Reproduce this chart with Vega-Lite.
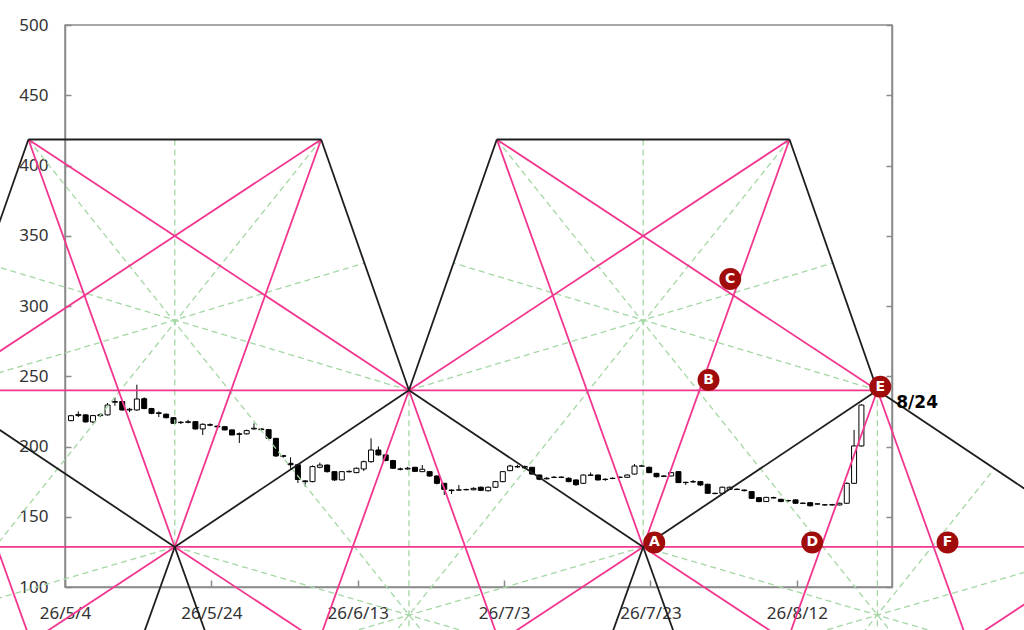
{
  "$schema": "https://vega.github.io/schema/vega-lite/v6.json",
  "width": 827,
  "height": 562,
  "autosize": {"type": "none"},
  "padding": {"left": 65, "top": 25, "right": 132, "bottom": 43},
  "background": "white",
  "config": {
    "view": {"stroke": "#8a8a8a", "strokeWidth": 1.5},
    "axis": {
      "grid": false,
      "domainColor": "#8a8a8a",
      "domainWidth": 1.5,
      "tickColor": "#8a8a8a",
      "tickWidth": 1.5,
      "labelFont": "Noto Sans",
      "labelFontSize": 17,
      "labelColor": "#333333"
    }
  },
  "datasets": {
    "candles": [
      {"date": "2026-05-04", "open": 218.4, "high": 222.5, "low": 218, "close": 221.9},
      {"date": "2026-05-05", "open": 222, "high": 225, "low": 221, "close": 222.8},
      {"date": "2026-05-06", "open": 222.5, "high": 223, "low": 217, "close": 217.5},
      {"date": "2026-05-07", "open": 217.5, "high": 222.5, "low": 216.5, "close": 222},
      {"date": "2026-05-08", "open": 222, "high": 223.5, "low": 221, "close": 222.6},
      {"date": "2026-05-09", "open": 222.5, "high": 231, "low": 222, "close": 229.5},
      {"date": "2026-05-10", "open": 231.5, "high": 235, "low": 229, "close": 232},
      {"date": "2026-05-11", "open": 232, "high": 232.5, "low": 225.5, "close": 226},
      {"date": "2026-05-12", "open": 226, "high": 227.5, "low": 224.5, "close": 226.5},
      {"date": "2026-05-13", "open": 226, "high": 244, "low": 225.5, "close": 233.8},
      {"date": "2026-05-14", "open": 234, "high": 235, "low": 226.5, "close": 227},
      {"date": "2026-05-15", "open": 227, "high": 227.5, "low": 223, "close": 223.6},
      {"date": "2026-05-16", "open": 223.5, "high": 225, "low": 221, "close": 224},
      {"date": "2026-05-17", "open": 223, "high": 223.5, "low": 220, "close": 220.5},
      {"date": "2026-05-18", "open": 220.5, "high": 221, "low": 216, "close": 216.5},
      {"date": "2026-05-19", "open": 217, "high": 218, "low": 216, "close": 217.3},
      {"date": "2026-05-20", "open": 217.2, "high": 219, "low": 216.5, "close": 217.6},
      {"date": "2026-05-21", "open": 217.7, "high": 218, "low": 212, "close": 212.5},
      {"date": "2026-05-22", "open": 212.5, "high": 216.5, "low": 208.2, "close": 215.8},
      {"date": "2026-05-23", "open": 215.5, "high": 216.5, "low": 214.5, "close": 215.2},
      {"date": "2026-05-24", "open": 214.5, "high": 215, "low": 213, "close": 214},
      {"date": "2026-05-25", "open": 214.1, "high": 214.5, "low": 211.5, "close": 211.8},
      {"date": "2026-05-26", "open": 211.8, "high": 212, "low": 208, "close": 208.2},
      {"date": "2026-05-27", "open": 209, "high": 210, "low": 202.5, "close": 208.7},
      {"date": "2026-05-28", "open": 209, "high": 212, "low": 208.5, "close": 211.3},
      {"date": "2026-05-29", "open": 212.5, "high": 216.5, "low": 212, "close": 213},
      {"date": "2026-05-30", "open": 212.5, "high": 213, "low": 211.5, "close": 212},
      {"date": "2026-05-31", "open": 212, "high": 212.5, "low": 205, "close": 205.8},
      {"date": "2026-06-01", "open": 205.8, "high": 206, "low": 192.5, "close": 193.3},
      {"date": "2026-06-02", "open": 193.5, "high": 194, "low": 192, "close": 193},
      {"date": "2026-06-03", "open": 188, "high": 192.3, "low": 183.3, "close": 187},
      {"date": "2026-06-04", "open": 187, "high": 187.5, "low": 174, "close": 176.5},
      {"date": "2026-06-05", "open": 175.5, "high": 176, "low": 171.4, "close": 175},
      {"date": "2026-06-06", "open": 175, "high": 186.5, "low": 174.5, "close": 185.7},
      {"date": "2026-06-07", "open": 185.2, "high": 188.5, "low": 184.5, "close": 186.8},
      {"date": "2026-06-08", "open": 186.8, "high": 187.2, "low": 181.5, "close": 182.1},
      {"date": "2026-06-09", "open": 182.1, "high": 182.5, "low": 175.5, "close": 176.2},
      {"date": "2026-06-10", "open": 176.2, "high": 182.5, "low": 175.8, "close": 182.1},
      {"date": "2026-06-11", "open": 182, "high": 183, "low": 181.5, "close": 182.3},
      {"date": "2026-06-12", "open": 181.4, "high": 185, "low": 181, "close": 184.5},
      {"date": "2026-06-13", "open": 184, "high": 190, "low": 182.5, "close": 189.2},
      {"date": "2026-06-14", "open": 189.2, "high": 205.8, "low": 188.5, "close": 197.5},
      {"date": "2026-06-15", "open": 197.5, "high": 200, "low": 193.5, "close": 194},
      {"date": "2026-06-16", "open": 194, "high": 194.5, "low": 189.5, "close": 190},
      {"date": "2026-06-17", "open": 190, "high": 190.5, "low": 184, "close": 184.5},
      {"date": "2026-06-18", "open": 184, "high": 185, "low": 183, "close": 183.8},
      {"date": "2026-06-19", "open": 184, "high": 185.5, "low": 183.5, "close": 184.5},
      {"date": "2026-06-20", "open": 185.2, "high": 185.5, "low": 182, "close": 182.3},
      {"date": "2026-06-21", "open": 182.1, "high": 186.8, "low": 181.8, "close": 183.8},
      {"date": "2026-06-22", "open": 182.1, "high": 182.5, "low": 178.5, "close": 179},
      {"date": "2026-06-23", "open": 179, "high": 179.5, "low": 173, "close": 173.8},
      {"date": "2026-06-24", "open": 173.8, "high": 174, "low": 165.5, "close": 169.5},
      {"date": "2026-06-25", "open": 169, "high": 169.5, "low": 166.2, "close": 168.6},
      {"date": "2026-06-26", "open": 169, "high": 172.6, "low": 168.5, "close": 169.1},
      {"date": "2026-06-27", "open": 169.2, "high": 170, "low": 168.7, "close": 169.4},
      {"date": "2026-06-28", "open": 169.2, "high": 171, "low": 168.8, "close": 170.2},
      {"date": "2026-06-29", "open": 171, "high": 171.5, "low": 168.3, "close": 168.8},
      {"date": "2026-06-30", "open": 168.5, "high": 171.5, "low": 168, "close": 171},
      {"date": "2026-07-01", "open": 171, "high": 175.5, "low": 170.5, "close": 175},
      {"date": "2026-07-02", "open": 175, "high": 182.5, "low": 174.5, "close": 182.1},
      {"date": "2026-07-03", "open": 182.8, "high": 187, "low": 182.5, "close": 186.1},
      {"date": "2026-07-04", "open": 185.5, "high": 187, "low": 184.8, "close": 185.7},
      {"date": "2026-07-05", "open": 185.7, "high": 186.5, "low": 184, "close": 184.8},
      {"date": "2026-07-06", "open": 185.2, "high": 185.5, "low": 180, "close": 180.4},
      {"date": "2026-07-07", "open": 179.7, "high": 180, "low": 176, "close": 176.7},
      {"date": "2026-07-08", "open": 177, "high": 178.2, "low": 176.5, "close": 177.4},
      {"date": "2026-07-09", "open": 178, "high": 179, "low": 177.5, "close": 178.1},
      {"date": "2026-07-10", "open": 178.2, "high": 178.8, "low": 177.5, "close": 178},
      {"date": "2026-07-11", "open": 177.4, "high": 178, "low": 174.6, "close": 175},
      {"date": "2026-07-12", "open": 176.2, "high": 176.5, "low": 172, "close": 172.8},
      {"date": "2026-07-13", "open": 173.8, "high": 180.2, "low": 173.3, "close": 179.7},
      {"date": "2026-07-14", "open": 179.5, "high": 181.5, "low": 179, "close": 179.7},
      {"date": "2026-07-15", "open": 179.7, "high": 180, "low": 175.8, "close": 176.2},
      {"date": "2026-07-16", "open": 176.5, "high": 177.5, "low": 175.5, "close": 176.7},
      {"date": "2026-07-17", "open": 177.2, "high": 178, "low": 176.8, "close": 177.4},
      {"date": "2026-07-18", "open": 178, "high": 178.8, "low": 177.5, "close": 178.1},
      {"date": "2026-07-19", "open": 178.1, "high": 180.2, "low": 177.8, "close": 179.7},
      {"date": "2026-07-20", "open": 180.4, "high": 187.5, "low": 180, "close": 186.1},
      {"date": "2026-07-21", "open": 186, "high": 187, "low": 185.5, "close": 186.2},
      {"date": "2026-07-22", "open": 185.2, "high": 185.7, "low": 181, "close": 181.4},
      {"date": "2026-07-23", "open": 180.9, "high": 181.2, "low": 178, "close": 178.5},
      {"date": "2026-07-24", "open": 179, "high": 179.5, "low": 178.2, "close": 178.8},
      {"date": "2026-07-25", "open": 179, "high": 181.8, "low": 178.8, "close": 181.4},
      {"date": "2026-07-26", "open": 182.1, "high": 182.5, "low": 174, "close": 174.3},
      {"date": "2026-07-27", "open": 174.5, "high": 175, "low": 172.6, "close": 174.3},
      {"date": "2026-07-28", "open": 174.8, "high": 176.2, "low": 174, "close": 175},
      {"date": "2026-07-29", "open": 175, "high": 175.5, "low": 172, "close": 172.6},
      {"date": "2026-07-30", "open": 173.1, "high": 173.5, "low": 166.2, "close": 166.7},
      {"date": "2026-07-31", "open": 166.5, "high": 167.2, "low": 166, "close": 166.7},
      {"date": "2026-08-01", "open": 166.7, "high": 171.5, "low": 166.3, "close": 171},
      {"date": "2026-08-02", "open": 169.5, "high": 171.5, "low": 169, "close": 171},
      {"date": "2026-08-03", "open": 169.6, "high": 170.2, "low": 169, "close": 169.4},
      {"date": "2026-08-04", "open": 169, "high": 169.4, "low": 168, "close": 168.6},
      {"date": "2026-08-05", "open": 167.9, "high": 168.2, "low": 162.8, "close": 163.1},
      {"date": "2026-08-06", "open": 163.6, "high": 164, "low": 160.3, "close": 160.8},
      {"date": "2026-08-07", "open": 160.8, "high": 164.2, "low": 160.5, "close": 163.8},
      {"date": "2026-08-08", "open": 163.4, "high": 164.3, "low": 163, "close": 163.6},
      {"date": "2026-08-09", "open": 162.4, "high": 162.8, "low": 160.4, "close": 160.8},
      {"date": "2026-08-10", "open": 161.4, "high": 162, "low": 160.6, "close": 161.5},
      {"date": "2026-08-11", "open": 162, "high": 162.3, "low": 159.3, "close": 159.6},
      {"date": "2026-08-12", "open": 159.7, "high": 160, "low": 159, "close": 159.5},
      {"date": "2026-08-13", "open": 160, "high": 160.3, "low": 157.4, "close": 157.8},
      {"date": "2026-08-14", "open": 159, "high": 159.6, "low": 158.5, "close": 159.2},
      {"date": "2026-08-15", "open": 158.5, "high": 158.9, "low": 158, "close": 158.4},
      {"date": "2026-08-16", "open": 158.4, "high": 159.2, "low": 158, "close": 158.6},
      {"date": "2026-08-17", "open": 158.4, "high": 160, "low": 158.1, "close": 159.6},
      {"date": "2026-08-18", "open": 159.6, "high": 174.5, "low": 159.3, "close": 173.8},
      {"date": "2026-08-19", "open": 173.8, "high": 211.8, "low": 173.3, "close": 200.4},
      {"date": "2026-08-20", "open": 200.4, "high": 230, "low": 200, "close": 229.5}
    ],
    "green": [
      {"t0": "2026-05-19", "v0": 418.5, "t1": "2026-05-19", "v1": 128.5},
      {"t0": "2026-07-22", "v0": 418.5, "t1": "2026-07-22", "v1": 128.5},
      {"t0": "2026-06-20", "v0": 240, "t1": "2026-06-20", "v1": -50},
      {"t0": "2026-08-23", "v0": 240, "t1": "2026-08-23", "v1": -50},
      {"t0": "2026-04-29", "v0": 418.5, "t1": "2026-07-10", "v1": -50},
      {"t0": "2026-06-08", "v0": 418.5, "t1": "2026-03-28", "v1": -50},
      {"t0": "2026-07-02", "v0": 418.5, "t1": "2026-09-12", "v1": -50},
      {"t0": "2026-08-11", "v0": 418.5, "t1": "2026-05-31", "v1": -50},
      {"t0": "2026-08-03", "v0": -50, "t1": "2026-09-08", "v1": 184.2},
      {"t0": "2026-06-20", "v0": 240, "t1": "2026-04-23T02:24:00Z", "v1": 330.5},
      {"t0": "2026-04-17", "v0": 240, "t1": "2026-06-13T21:36:00Z", "v1": 330.5},
      {"t0": "2026-08-23", "v0": 240, "t1": "2026-06-26T02:24:00Z", "v1": 330.5},
      {"t0": "2026-06-20", "v0": 240, "t1": "2026-08-16T21:36:00Z", "v1": 330.5},
      {"t0": "2026-05-19", "v0": 128.5, "t1": "2026-07-15T21:36:00Z", "v1": 40.7},
      {"t0": "2026-07-22", "v0": 128.5, "t1": "2026-05-25T02:24:00Z", "v1": 40.7},
      {"t0": "2026-07-22", "v0": 128.5, "t1": "2026-09-17T21:36:00Z", "v1": 40.7},
      {"t0": "2026-09-24", "v0": 128.5, "t1": "2026-07-28T02:24:00Z", "v1": 40.7},
      {"t0": "2026-05-19", "v0": 128.5, "t1": "2026-03-22T02:24:00Z", "v1": 40.7}
    ],
    "pink": [
      {"t0": "2026-04-17", "v0": 240, "t1": "2026-08-23", "v1": 240},
      {"t0": "2026-03-16", "v0": 128.5, "t1": "2026-09-24", "v1": 128.5},
      {"t0": "2026-04-29", "v0": 418.5, "t1": "2026-05-19", "v1": 128.5},
      {"t0": "2026-06-08", "v0": 418.5, "t1": "2026-05-19", "v1": 128.5},
      {"t0": "2026-07-02", "v0": 418.5, "t1": "2026-07-22", "v1": 128.5},
      {"t0": "2026-08-11", "v0": 418.5, "t1": "2026-07-22", "v1": 128.5},
      {"t0": "2026-04-29", "v0": 418.5, "t1": "2026-06-20", "v1": 240},
      {"t0": "2026-06-08", "v0": 418.5, "t1": "2026-04-17", "v1": 240},
      {"t0": "2026-07-02", "v0": 418.5, "t1": "2026-08-23", "v1": 240},
      {"t0": "2026-08-11", "v0": 418.5, "t1": "2026-06-20", "v1": 240},
      {"t0": "2026-04-17", "v0": 240, "t1": "2026-03-28", "v1": -50},
      {"t0": "2026-04-17", "v0": 240, "t1": "2026-05-07", "v1": -50},
      {"t0": "2026-06-20", "v0": 240, "t1": "2026-05-31", "v1": -50},
      {"t0": "2026-06-20", "v0": 240, "t1": "2026-07-10", "v1": -50},
      {"t0": "2026-08-23", "v0": 240, "t1": "2026-08-03", "v1": -50},
      {"t0": "2026-08-23", "v0": 240, "t1": "2026-09-12", "v1": -50},
      {"t0": "2026-03-28", "v0": -50, "t1": "2026-05-19", "v1": 128.5},
      {"t0": "2026-07-10", "v0": -50, "t1": "2026-05-19", "v1": 128.5},
      {"t0": "2026-05-31", "v0": -50, "t1": "2026-07-22", "v1": 128.5},
      {"t0": "2026-09-12", "v0": -50, "t1": "2026-07-22", "v1": 128.5},
      {"t0": "2026-08-03", "v0": -50, "t1": "2026-09-24", "v1": 128.5}
    ],
    "black": [
      {"t0": "2026-04-29", "v0": 418.5, "t1": "2026-06-08", "v1": 418.5},
      {"t0": "2026-07-02", "v0": 418.5, "t1": "2026-08-11", "v1": 418.5},
      {"t0": "2026-04-29", "v0": 418.5, "t1": "2026-04-17", "v1": 240},
      {"t0": "2026-06-08", "v0": 418.5, "t1": "2026-06-20", "v1": 240},
      {"t0": "2026-07-02", "v0": 418.5, "t1": "2026-06-20", "v1": 240},
      {"t0": "2026-08-11", "v0": 418.5, "t1": "2026-08-23", "v1": 240},
      {"t0": "2026-04-17", "v0": 240, "t1": "2026-05-19", "v1": 128.5},
      {"t0": "2026-05-19", "v0": 128.5, "t1": "2026-06-20", "v1": 240},
      {"t0": "2026-06-20", "v0": 240, "t1": "2026-07-22", "v1": 128.5},
      {"t0": "2026-07-22", "v0": 128.5, "t1": "2026-08-23", "v1": 240},
      {"t0": "2026-08-23", "v0": 240, "t1": "2026-09-24", "v1": 128.5},
      {"t0": "2026-05-19", "v0": 128.5, "t1": "2026-05-06T16:34:00Z", "v1": -50},
      {"t0": "2026-05-19", "v0": 128.5, "t1": "2026-05-31T07:26:00Z", "v1": -50},
      {"t0": "2026-07-22", "v0": 128.5, "t1": "2026-07-09T16:34:00Z", "v1": -50},
      {"t0": "2026-07-22", "v0": 128.5, "t1": "2026-08-03T07:26:00Z", "v1": -50}
    ],
    "points": [
      {"label": "A", "t": "2026-07-23T12:30:00Z", "v": 131.7},
      {"label": "B", "t": "2026-07-30T22:20:00Z", "v": 247.3},
      {"label": "C", "t": "2026-08-02T21:36:00Z", "v": 319.2},
      {"label": "D", "t": "2026-08-14T02:24:00Z", "v": 131.7},
      {"label": "E", "t": "2026-08-23T09:36:00Z", "v": 242.6},
      {"label": "F", "t": "2026-09-01T14:10:00Z", "v": 131.7}
    ],
    "notes": [
      {"text": "8/24", "t": "2026-08-25T14:00:00Z", "v": 231}
    ]
  },
  "resolve": {"axis": {"y": "independent"}},
  "layer": [
    {
      "data": {"name": "candles"},
      "mark": {"type": "rule", "color": "black", "strokeWidth": 1, "xOffset": 6, "clip": false},
      "encoding": {
        "x": {
          "field": "date",
          "type": "temporal",
          "scale": {"type": "utc", "padding": 0, "domain": [{"year": 2026, "month": 5, "date": 4, "utc": true}, {"year": 2026, "month": 8, "date": 25, "utc": true}]},
          "axis": {
            "title": null,
            "values": [
              {"year": 2026, "month": 5, "date": 4, "utc": true},
              {"year": 2026, "month": 5, "date": 24, "utc": true},
              {"year": 2026, "month": 6, "date": 13, "utc": true},
              {"year": 2026, "month": 7, "date": 3, "utc": true},
              {"year": 2026, "month": 7, "date": 23, "utc": true},
              {"year": 2026, "month": 8, "date": 12, "utc": true}
            ],
            "labelExpr": "utcFormat(datum.value, '%y/%-m/%-d')",
            "tickSize": -7,
            "labelPadding": 25,
            "labelFlush": false,
            "labelOverlap": false
          }
        },
        "y": {
          "field": "low",
          "type": "quantitative",
          "scale": {"domain": [100, 500], "nice": false, "zero": false, "padding": 0},
          "axis": {
            "title": null,
            "orient": "left",
            "values": [100, 150, 200, 250, 300, 350, 400, 450, 500],
            "tickSize": -6,
            "labelPadding": 23,
            "labelFlush": false,
            "labelOverlap": false
          }
        },
        "y2": {"field": "high"}
      }
    },
    {
      "data": {"name": "candles"},
      "mark": {"type": "bar", "width": 5, "stroke": "black", "strokeWidth": 1, "xOffset": 6, "clip": false},
      "encoding": {
        "x": {"field": "date", "type": "temporal", "scale": {"type": "utc", "padding": 0, "domain": [{"year": 2026, "month": 5, "date": 4, "utc": true}, {"year": 2026, "month": 8, "date": 25, "utc": true}]}},
        "y": {
          "field": "open",
          "type": "quantitative",
          "scale": {"domain": [100, 500], "nice": false, "zero": false, "padding": 0},
          "axis": {
            "title": null,
            "orient": "right",
            "values": [100, 150, 200, 250, 300, 350, 400, 450, 500],
            "labels": false,
            "tickSize": -6
          }
        },
        "y2": {"field": "close"},
        "fill": {"condition": {"test": "datum.close > datum.open", "value": "white"}, "value": "black"}
      }
    },
    {
      "data": {"name": "green"},
      "mark": {"type": "rule", "color": "#a4d7a4", "strokeWidth": 1.3, "strokeDash": [6, 4], "clip": false},
      "encoding": {
        "x": {"field": "t0", "type": "temporal", "scale": {"type": "utc", "padding": 0, "domain": [{"year": 2026, "month": 5, "date": 4, "utc": true}, {"year": 2026, "month": 8, "date": 25, "utc": true}]}},
        "x2": {"field": "t1"},
        "y": {"field": "v0", "type": "quantitative", "scale": {"domain": [100, 500], "nice": false, "zero": false, "padding": 0}, "axis": null},
        "y2": {"field": "v1"}
      }
    },
    {
      "data": {"name": "pink"},
      "mark": {"type": "rule", "color": "#f2368f", "strokeWidth": 1.8, "clip": false},
      "encoding": {
        "x": {"field": "t0", "type": "temporal", "scale": {"type": "utc", "padding": 0, "domain": [{"year": 2026, "month": 5, "date": 4, "utc": true}, {"year": 2026, "month": 8, "date": 25, "utc": true}]}},
        "x2": {"field": "t1"},
        "y": {"field": "v0", "type": "quantitative", "scale": {"domain": [100, 500], "nice": false, "zero": false, "padding": 0}, "axis": null},
        "y2": {"field": "v1"}
      }
    },
    {
      "data": {"name": "black"},
      "mark": {"type": "rule", "color": "#1e1e1e", "strokeWidth": 1.8, "clip": false},
      "encoding": {
        "x": {"field": "t0", "type": "temporal", "scale": {"type": "utc", "padding": 0, "domain": [{"year": 2026, "month": 5, "date": 4, "utc": true}, {"year": 2026, "month": 8, "date": 25, "utc": true}]}},
        "x2": {"field": "t1"},
        "y": {"field": "v0", "type": "quantitative", "scale": {"domain": [100, 500], "nice": false, "zero": false, "padding": 0}, "axis": null},
        "y2": {"field": "v1"}
      }
    },
    {
      "data": {"name": "points"},
      "mark": {"type": "point", "shape": "circle", "filled": true, "color": "#a00c0c", "opacity": 1, "size": 480, "clip": false},
      "encoding": {
        "x": {"field": "t", "type": "temporal", "scale": {"type": "utc", "padding": 0, "domain": [{"year": 2026, "month": 5, "date": 4, "utc": true}, {"year": 2026, "month": 8, "date": 25, "utc": true}]}},
        "y": {"field": "v", "type": "quantitative", "scale": {"domain": [100, 500], "nice": false, "zero": false, "padding": 0}, "axis": null}
      }
    },
    {
      "data": {"name": "points"},
      "mark": {"type": "text", "color": "white", "font": "DejaVu Sans", "fontWeight": "bold", "fontSize": 14, "align": "center", "baseline": "middle", "clip": false},
      "encoding": {
        "x": {"field": "t", "type": "temporal", "scale": {"type": "utc", "padding": 0, "domain": [{"year": 2026, "month": 5, "date": 4, "utc": true}, {"year": 2026, "month": 8, "date": 25, "utc": true}]}},
        "y": {"field": "v", "type": "quantitative", "scale": {"domain": [100, 500], "nice": false, "zero": false, "padding": 0}, "axis": null},
        "text": {"field": "label"}
      }
    },
    {
      "data": {"name": "notes"},
      "mark": {"type": "text", "color": "black", "font": "DejaVu Sans", "fontWeight": "bold", "fontSize": 17, "align": "left", "baseline": "middle", "clip": false},
      "encoding": {
        "x": {"field": "t", "type": "temporal", "scale": {"type": "utc", "padding": 0, "domain": [{"year": 2026, "month": 5, "date": 4, "utc": true}, {"year": 2026, "month": 8, "date": 25, "utc": true}]}},
        "y": {"field": "v", "type": "quantitative", "scale": {"domain": [100, 500], "nice": false, "zero": false, "padding": 0}, "axis": null},
        "text": {"field": "text"}
      }
    }
  ]
}
